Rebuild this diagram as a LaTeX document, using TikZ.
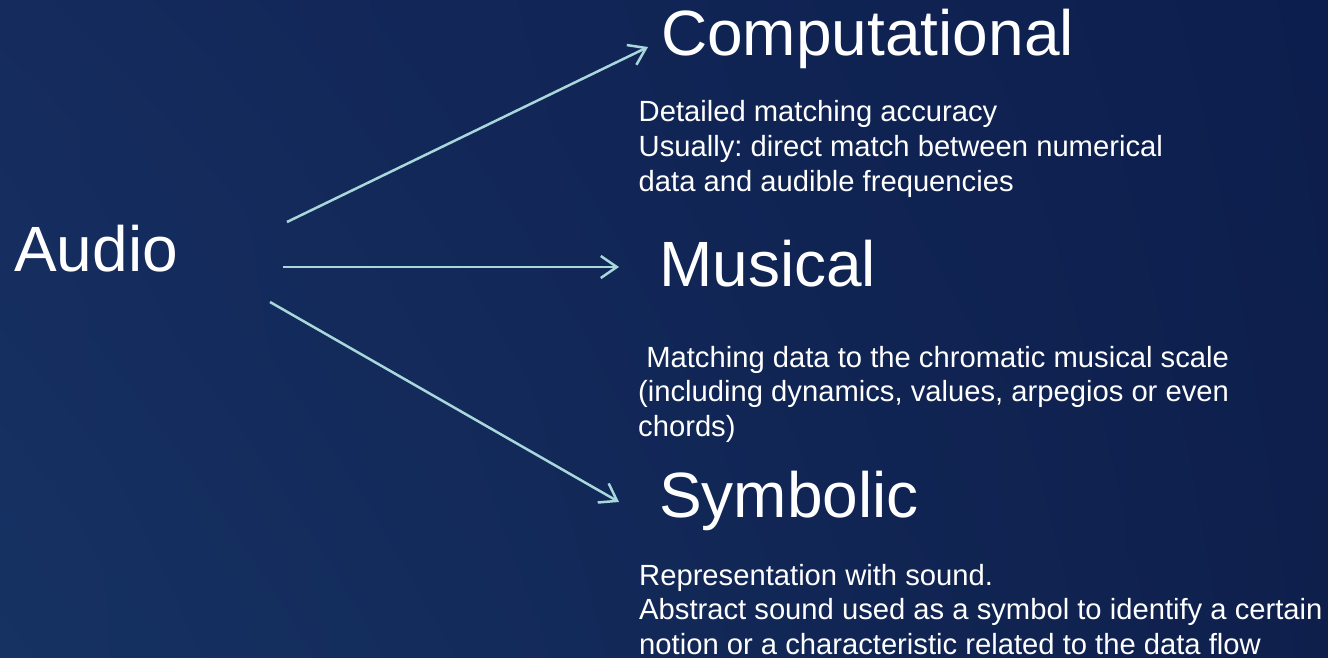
\documentclass[tikz,border=0pt]{standalone}
\usepackage{fontspec}
\setmainfont{Liberation Sans}
\usetikzlibrary{arrows.meta,shadings}
\definecolor{bgll}{HTML}{153263}
\definecolor{bglr}{HTML}{0F1F4C}
\definecolor{bgul}{HTML}{152B5D}
\definecolor{bgur}{HTML}{0C1E4D}
\definecolor{arrowc}{HTML}{A8D8DC}
\frenchspacing
\tikzset{
  title/.style={anchor=base west, inner sep=0pt, text=white, font=\fontsize{64}{70}\selectfont},
  body/.style={anchor=base west, inner sep=0pt, text=white, font=\fontsize{29.2}{34.5}\selectfont},
  link/.style={draw=arrowc, line width=2.5pt, -{Straight Barb[length=16pt,width=22pt]}}
}
\newcommand\threelines[3]{\vtop{\baselineskip=34.7pt\hbox{#1}\hbox{#2}\hbox{#3}}}
\begin{document}
\begin{tikzpicture}[x=1pt,y=-1pt]
\useasboundingbox (0,0) rectangle (1328,658);
\shade[upper left=bgul, upper right=bgur, lower left=bgll, lower right=bglr] (0,0) rectangle (1328,658);
\node[title] (audio) at (14,271) {Audio};
\node[title] (comp) at (661,56) {Computational};
\node[body] (compd) at (638.5,122) {\threelines{Detailed matching accuracy}{Usually: direct match between numerical}{data and audible frequencies}};
\node[title] (mus) at (659,286) {Musical};
\node[body] (musd) at (638,367) {\threelines{\ Matching data to the chromatic musical scale}{(including dynamics, values, arpegios or even}{chords)}};
\node[title] (sym) at (659,517) {Symbolic};
\node[body] (symd) at (639,585) {\threelines{Representation with sound.}{Abstract sound used as a symbol to identify a certain}{notion or a characteristic related to the data flow}};
\coordinate (s1) at (287,222);
\coordinate (e1) at (648,47);
\coordinate (s2) at (283,267);
\coordinate (e2) at (619,267);
\coordinate (s3) at (270,302);
\coordinate (e3) at (619,502);
\draw[link] (s1) -- (e1);
\draw[link] (s2) -- (e2);
\draw[link] (s3) -- (e3);
\end{tikzpicture}
\end{document}
